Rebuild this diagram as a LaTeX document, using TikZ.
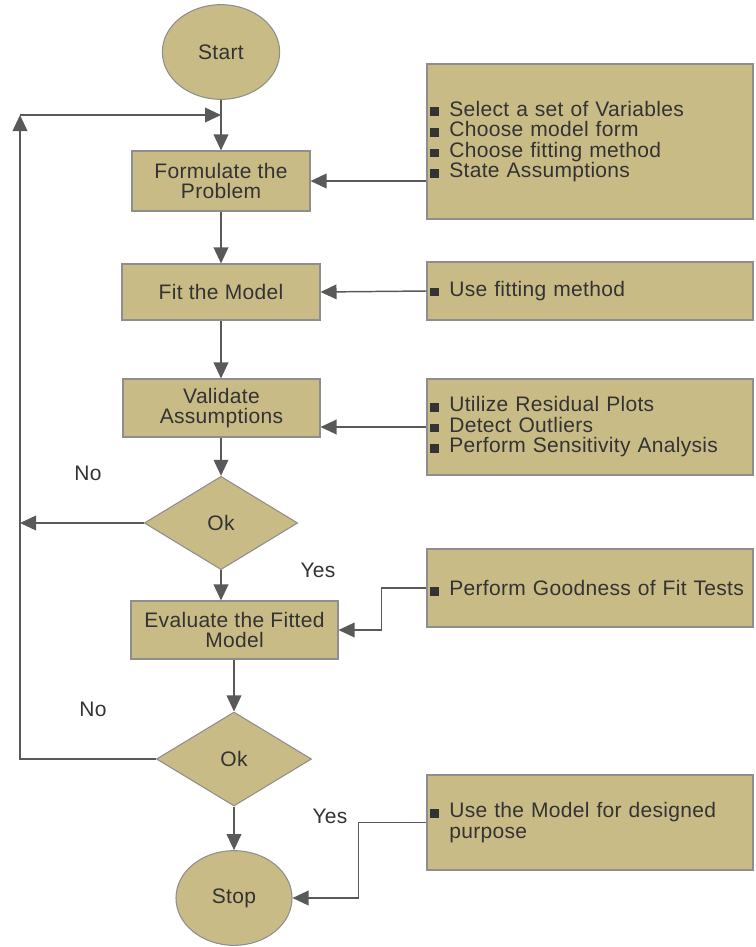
\documentclass[tikz,border=0pt]{standalone}
\usepackage{fontspec}
\setmainfont{Liberation Sans}[LetterSpace=1.5]
\usetikzlibrary{shapes.geometric,arrows.meta}
\definecolor{tan}{HTML}{C9BB86}
\definecolor{edge}{HTML}{8E8E8E}
\definecolor{wire}{HTML}{595959}
\definecolor{ink}{HTML}{333333}
\newcommand{\sqb}{\textcolor{ink}{\rule{6.5pt}{6.5pt}}\hspace{8pt}}
\begin{document}
\begin{tikzpicture}[x=0.75pt,y=-0.75pt,
  font=\fontsize{15.75pt}{15.4pt}\selectfont,
  every node/.style={text=ink},
  base/.style={draw=edge, fill=tan, line width=0.8pt},
  proc/.style={base, rectangle, align=center, minimum height=43.5pt},
  term/.style={base, ellipse, minimum width=88pt, minimum height=71pt},
  decide/.style={base, diamond, inner sep=0pt, minimum width=115pt, minimum height=70pt},
  note/.style={base, rectangle, text width=240pt, inner xsep=2.25pt, align=left, minimum width=244.5pt, minimum height=43.5pt},
  flow/.style={draw=wire, line width=1.1pt, -{Triangle[length=12pt,width=11pt]}}]
  \useasboundingbox (0,0) rectangle (756,947);

  % main column
  \node[term] (start) at (221,52) {Start};
  \node[proc, minimum width=133.5pt, minimum height=45pt] (form) at (221,181) {Formulate the\\Problem};
  \node[proc, minimum width=148.5pt, minimum height=42pt] (fit) at (221,292) {Fit the Model};
  \node[proc, minimum width=147.75pt] (valid) at (221.5,408) {Validate\\Assumptions};
  \node[decide] (ok1) at (221,523) {Ok};
  \node[proc, minimum width=155.25pt] (eval) at (234.5,630) {Evaluate the Fitted\\Model};
  \node[decide, minimum width=116.25pt, minimum height=70.5pt] (ok2) at (234,759) {Ok};
  \node[term, minimum width=87pt] (stop) at (234,898) {Stop};

  % side notes
  \node[note, minimum height=116.25pt] (n1) at (590,141.5) {\sqb Select a set of Variables\\ \sqb Choose model form\\ \sqb Choose fitting method\\ \sqb State Assumptions};
  \node[note] (n2) at (590,291) {\sqb Use fitting method};
  \node[note, minimum height=72pt] (n3) at (590,427) {\sqb Utilize Residual Plots\\ \sqb Detect Outliers\\ \sqb Perform Sensitivity Analysis};
  \node[note, minimum height=58.5pt] (n4) at (590,588) {\sqb Perform Goodness of Fit Tests};
  \node[note, minimum height=71.25pt] (n5) at (590,822.5) {\sqb Use the Model for designed\\ \hphantom{\sqb}purpose};

  \node (no1) at (88,473) {No};
  \node (no2) at (93,709) {No};
  \node (yes1) at (318,570) {Yes};
  \node (yes2) at (330,816) {Yes};

  \coordinate (back) at (20,115);

  \draw[flow] (start) -- (form);
  \draw[flow] (form) -- (fit);
  \draw[flow] (fit) -- (valid.north -| fit.south);
  \draw[flow] (valid.south -| ok1.north) -- (ok1);
  \draw[flow] (ok1.south) -- (ok1.south |- eval.north);
  \draw[flow] (eval.south -| ok2.north) -- (ok2);
  \draw[flow] (ok2) -- (stop);

  % loop back to the top
  \draw[flow] (ok1.west) -- (ok1.west -| back);
  \draw[flow] (ok2.west) -| (back);
  \draw[flow] (back) -- (back -| start.south);

  \draw[flow] (n1.west |- form.east) -- (form.east);
  \draw[flow] (n2.west) -- (fit.east);
  \draw[flow] (n3.west) -- (n3.west -| valid.east);
  \draw[flow] (n4.west) -- ++(-45,0) |- (eval.east);
  \draw[flow] (n5.west) -- ++(-68,0) |- (stop.east);
\end{tikzpicture}
\end{document}
